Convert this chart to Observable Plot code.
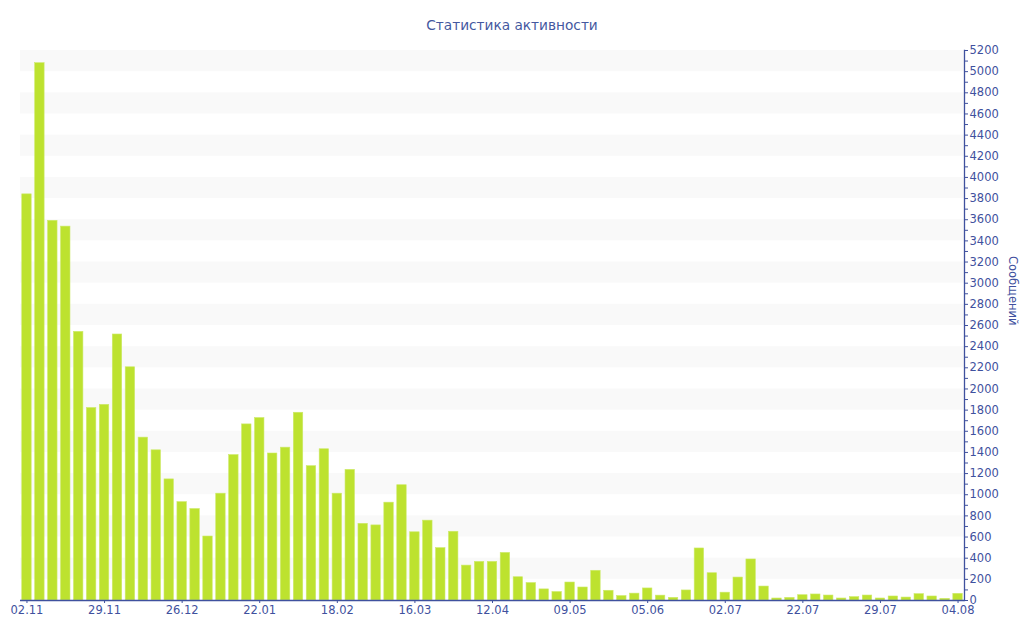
<!DOCTYPE html>
<html>
<head>
<meta charset="utf-8">
<script src="https://cdn.jsdelivr.net/npm/d3@7"></script>
<script src="https://cdn.jsdelivr.net/npm/@observablehq/plot@0.6"></script>
<style>
  html, body { margin: 0; padding: 0; background: #ffffff; }
  #title { height: 40px; box-sizing: border-box; padding-top: 15px; text-align: center;
           font-family: "DejaVu Sans", sans-serif; font-size: 13.7px; line-height: 20px; color: #44589f; }
  #chart svg { display: block; }
</style>
</head>
<body>
<div id="title">Статистика активности</div>
<div id="chart"></div>
<script>
// Messages per period (bars, left to right)
const values = [
  3840, 5080, 3590, 3535, 2540, 1820, 1850, 2515, 2205, 1540,
  1420, 1145, 930, 865, 605, 1010, 1375, 1665, 1725, 1390,
  1445, 1775, 1270, 1430, 1010, 1235, 725, 710, 925, 1090,
  645, 755, 495, 650, 330, 365, 365, 450, 220, 165,
  105, 80, 170, 123, 281, 92, 42, 65, 114, 46,
  25, 95, 492, 258, 74, 217, 388, 132, 19, 25,
  50, 57, 47, 19, 32, 47, 19, 38, 28, 60,
  38, 16, 63
];
// Labels shown under every 6th bar
const tickLabels = ["02.11","29.11","26.12","22.01","18.02","16.03","12.04","09.05","05.06","02.07","22.07","29.07","04.08"];
const labelEvery = 6;
const yMax = 5200;
const yTicks = d3.range(0, yMax + 1, 200);
const yMinorTicks = d3.range(100, yMax, 200);
const yLabel = "Сообщений";

const data = values.map((v, i) => ({i, v}));
const bands = d3.range(200, yMax, 400).map(s => ({y1: s, y2: s + 200}));
const xTickIdx = tickLabels.map((_, k) => k * labelEvery);

const blue = "#3f519e";

const chart = Plot.plot({
  width: 1024,
  height: 600,
  marginTop: 10,
  marginBottom: 40,
  marginLeft: 20,
  marginRight: 60,
  style: {fontFamily: "DejaVu Sans, sans-serif", fontSize: "11px", color: blue, background: "#ffffff"},
  x: {type: "band", domain: d3.range(values.length), paddingInner: 0.27, paddingOuter: 0.135, axis: null},
  y: {domain: [0, yMax], axis: null},
  marks: [
    Plot.rect(bands, {y1: "y1", y2: "y2", fill: "#f9f9f9"}),
    Plot.barY(data, {x: "i", y: "v", fill: "#bde22f", stroke: "#cdea6a", strokeWidth: 0.6}),
    Plot.ruleY([0], {stroke: blue, strokeWidth: 1.3}),
    Plot.frame({anchor: "right", stroke: blue, strokeWidth: 1.3}),
    Plot.axisY({anchor: "right", ticks: yMinorTicks, tickFormat: () => "", tickSize: 3, label: null}),
    Plot.axisY({anchor: "right", ticks: yTicks, tickFormat: d => String(d), tickSize: 3, tickPadding: 2, label: null, fontSize: 11.5}),
    Plot.axisX({ticks: xTickIdx, tickFormat: i => tickLabels[i / labelEvery], tickSize: 3, tickPadding: 2, label: null, fontSize: 11.5}),
    Plot.text([yLabel], {frameAnchor: "right", dx: 48, rotate: 90, fontSize: 11.5, fill: blue})
  ]
});
document.getElementById("chart").appendChild(chart);
</script>
</body>
</html>
